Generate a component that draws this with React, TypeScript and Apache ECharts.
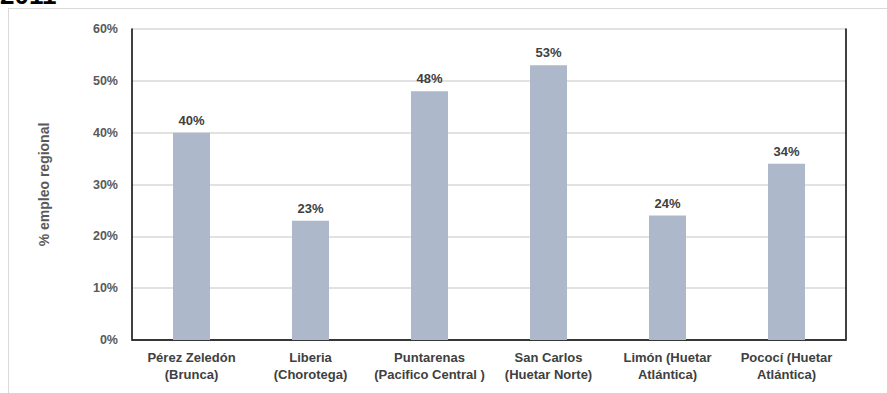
import React, { useEffect, useRef } from "react";
import * as echarts from "echarts";

const categories: string[] = [
  "Pérez Zeledón\n(Brunca)",
  "Liberia\n(Chorotega)",
  "Puntarenas\n(Pacifico Central )",
  "San Carlos\n(Huetar Norte)",
  "Limón (Huetar\nAtlántica)",
  "Pococí (Huetar\nAtlántica)",
];
const empleoRegional: number[] = [40, 23, 48, 53, 24, 34];
const yearTitle = "2011";
const yAxisTitle = "% empleo regional";

const FONT = "'Liberation Sans Narrow', 'Arial Narrow', 'Liberation Sans', Arial, sans-serif";

export default function App() {
  const ref = useRef<HTMLDivElement>(null);

  useEffect(() => {
    if (!ref.current) return;
    const chart = echarts.init(ref.current, null, { renderer: "svg" });
    chart.setOption({
      animation: false,
      backgroundColor: "#ffffff",
      grid: { left: 132, top: 29, right: 41, bottom: 53 },
      graphic: [
        {
          type: "text",
          left: 0,
          top: -18,
          style: {
            text: yearTitle,
            font: "bold 26px 'Liberation Sans', Arial, sans-serif",
            fill: "#000000",
          },
        },
        {
          type: "line",
          shape: { x1: 8, y1: 8.5, x2: 887, y2: 8.5 },
          style: { stroke: "#d9d9d9", lineWidth: 1 },
        },
        {
          type: "line",
          shape: { x1: 8.5, y1: 8, x2: 8.5, y2: 393 },
          style: { stroke: "#d9d9d9", lineWidth: 1 },
        },
      ],
      xAxis: [
        {
          type: "category",
          data: categories,
          axisLine: { show: true, lineStyle: { color: "#d9d9d9", width: 1.5 } },
          axisTick: { show: false },
          axisLabel: {
            interval: 0,
            color: "#404040",
            fontFamily: FONT,
            fontWeight: "bold",
            fontSize: 13,
            lineHeight: 17,
            margin: 9,
          },
        },
        {
          type: "category",
          position: "top",
          data: categories,
          axisLine: { show: true, lineStyle: { color: "#000000", width: 1.5 } },
          axisTick: { show: false },
          axisLabel: { show: false },
        },
      ],
      yAxis: [
        {
          type: "value",
          min: 0,
          max: 60,
          interval: 10,
          name: yAxisTitle,
          nameLocation: "middle",
          nameRotate: 90,
          nameGap: 81,
          nameTextStyle: {
            color: "#595959",
            fontFamily: FONT,
            fontWeight: "bold",
            fontSize: 14,
          },
          axisLine: { show: true, lineStyle: { color: "#000000", width: 1.5 } },
          axisTick: { show: false },
          axisLabel: {
            formatter: "{value}%",
            color: "#595959",
            fontFamily: FONT,
            fontWeight: "bold",
            fontSize: 12.5,
            margin: 14,
          },
          splitLine: { show: true, lineStyle: { color: "#d9d9d9", width: 1.5 } },
        },
        {
          type: "value",
          position: "right",
          min: 0,
          max: 60,
          interval: 10,
          axisLine: { show: true, lineStyle: { color: "#000000", width: 1.5 } },
          axisTick: { show: false },
          axisLabel: { show: false },
          splitLine: { show: false },
        },
      ],
      series: [
        {
          type: "bar",
          data: empleoRegional,
          barWidth: 37,
          itemStyle: { color: "#adb9ca" },
          label: {
            show: true,
            position: "top",
            distance: 6,
            formatter: "{c}%",
            color: "#404040",
            fontFamily: FONT,
            fontWeight: "bold",
            fontSize: 13,
          },
        },
      ],
    });
    return () => chart.dispose();
  }, []);

  return (
    <div
      ref={ref}
      style={{ position: "absolute", left: 0, top: 0, width: 887, height: 393 }}
    />
  );
}
